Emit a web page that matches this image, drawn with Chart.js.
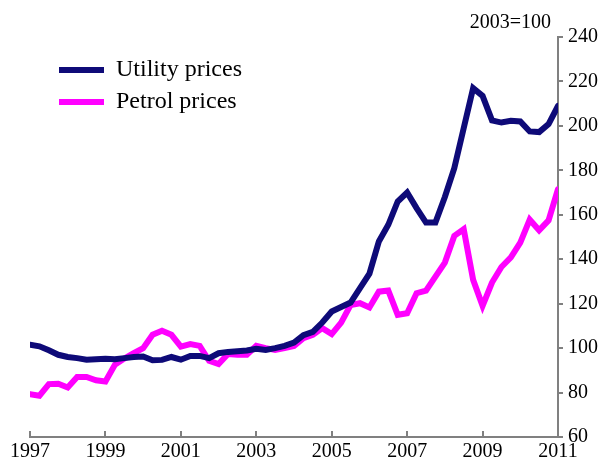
<!DOCTYPE html>
<html>
<head>
<meta charset="utf-8">
<script src="https://cdn.jsdelivr.net/npm/chart.js@4.4.1/dist/chart.umd.min.js"></script>
<style>
  html, body { margin: 0; padding: 0; background: #fff; }
</style>
</head>
<body>
<canvas id="chart" width="601" height="461"></canvas>
<script>
// quarterly observations, 1997 Q1 .. 2011 Q1
const quarters = [
  '1997Q1', '1997Q2', '1997Q3', '1997Q4',
  '1998Q1', '1998Q2', '1998Q3', '1998Q4',
  '1999Q1', '1999Q2', '1999Q3', '1999Q4',
  '2000Q1', '2000Q2', '2000Q3', '2000Q4',
  '2001Q1', '2001Q2', '2001Q3', '2001Q4',
  '2002Q1', '2002Q2', '2002Q3', '2002Q4',
  '2003Q1', '2003Q2', '2003Q3', '2003Q4',
  '2004Q1', '2004Q2', '2004Q3', '2004Q4',
  '2005Q1', '2005Q2', '2005Q3', '2005Q4',
  '2006Q1', '2006Q2', '2006Q3', '2006Q4',
  '2007Q1', '2007Q2', '2007Q3', '2007Q4',
  '2008Q1', '2008Q2', '2008Q3', '2008Q4',
  '2009Q1', '2009Q2', '2009Q3', '2009Q4',
  '2010Q1', '2010Q2', '2010Q3', '2010Q4',
  '2011Q1'
];

const utilityPrices = [
  101.5, 100.8, 99.0, 97.0,
  96.0, 95.5, 94.8, 95.0,
  95.2, 95.0, 95.5, 96.0,
  96.2, 94.5, 94.7, 96.0,
  94.8, 96.5, 96.5, 95.5,
  97.7, 98.3, 98.6, 98.9,
  99.7, 99.2, 100.0, 101.0,
  102.5, 105.8, 107.3, 111.5,
  116.5, 118.5, 120.5, 127.0,
  133.5, 148.0, 155.5, 166.0,
  170.0, 163.0, 156.5, 156.5,
  168.0, 181.0, 199.0, 217.0,
  213.5, 202.5, 201.5, 202.3,
  202.0, 197.5, 197.2, 200.8,
  209.0
];

const petrolPrices = [
  79.3, 78.6, 83.8, 84.0,
  82.3, 87.0, 87.0, 85.5,
  85.0, 92.5, 95.3, 97.7,
  100.0, 106.0, 107.8, 106.0,
  100.7, 101.8, 101.0, 94.3,
  92.8, 97.4, 97.0, 97.0,
  101.0, 100.0, 99.2, 100.0,
  101.0, 104.5, 106.0, 109.0,
  106.3, 111.5, 119.4, 120.2,
  118.3, 125.4, 125.9, 115.0,
  115.7, 124.7, 125.9, 132.2,
  138.5, 150.5, 153.5, 130.7,
  119.0, 129.5, 136.5, 140.8,
  147.5, 157.8, 153.0, 157.5,
  171.5
];

const yearTicks = [1997, 1999, 2001, 2003, 2005, 2007, 2009, 2011];
const valueTicks = [60, 80, 100, 120, 140, 160, 180, 200, 220, 240];
const unitNote = '2003=100';

const serif = 'Liberation Serif, Times New Roman, serif';
const axisGray = '#808080';

function quarterToYear(q) {
  const [y, n] = q.split('Q');
  return Number(y) + (Number(n) - 1) / 4;
}

function toPoints(values) {
  return values.map((v, i) => ({ x: quarterToYear(quarters[i]), y: v }));
}

// put the legend where the original has it, inside the plot
const legendPlacer = {
  id: 'legendPlacer',
  afterLayout(chart) {
    chart.legend.left = 51;
    chart.legend.top = 50;
  }
};

const unitLabel = {
  id: 'unitLabel',
  afterDraw(chart) {
    const { ctx, chartArea } = chart;
    ctx.save();
    ctx.font = '20px ' + serif;
    ctx.fillStyle = '#000';
    ctx.textAlign = 'right';
    ctx.textBaseline = 'alphabetic';
    ctx.fillText(unitNote, chartArea.right - 7, 28);
    ctx.restore();
  }
};

new Chart(document.getElementById('chart'), {
  type: 'line',
  data: {
    datasets: [
      {
        label: 'Utility prices',
        data: toPoints(utilityPrices),
        borderColor: '#0E0A78',
        backgroundColor: '#0E0A78',
        borderWidth: 6
      },
      {
        label: 'Petrol prices',
        data: toPoints(petrolPrices),
        borderColor: '#FF00FF',
        backgroundColor: '#FF00FF',
        borderWidth: 6
      }
    ]
  },
  options: {
    responsive: false,
    animation: false,
    layout: { padding: { left: 30, top: 37, right: 0, bottom: 0 } },
    elements: {
      point: { radius: 0, hoverRadius: 0 },
      line: { tension: 0, fill: false, borderCapStyle: 'round' }
    },
    plugins: {
      tooltip: { enabled: false },
      legend: {
        position: 'chartArea',
        align: 'start',
        labels: {
          color: '#000',
          font: { family: serif, size: 24 },
          boxWidth: 45,
          boxHeight: 6,
          padding: 8,
          generateLabels: (chart) =>
            Chart.defaults.plugins.legend.labels.generateLabels(chart)
              .map(item => ({ ...item, lineWidth: 0 }))
        }
      }
    },
    scales: {
      x: {
        type: 'linear',
        min: 1997,
        max: 2011,
        afterBuildTicks: (scale) => { scale.ticks = yearTicks.map(v => ({ value: v })); },
        afterFit: (scale) => { scale.height = 24; },
        border: { color: axisGray, width: 2 },
        grid: { drawOnChartArea: false, color: axisGray, lineWidth: 2, tickLength: -6 },
        ticks: {
          color: '#000',
          font: { family: serif, size: 20 },
          padding: 9,
          maxRotation: 0,
          autoSkip: false,
          callback: (v) => String(v)
        }
      },
      y: {
        position: 'right',
        min: 60,
        max: 240,
        afterBuildTicks: (scale) => { scale.ticks = valueTicks.map(v => ({ value: v })); },
        afterFit: (scale) => { scale.width = 43; },
        border: { color: axisGray, width: 2 },
        grid: { drawOnChartArea: false, color: axisGray, lineWidth: 2, tickLength: 5 },
        ticks: {
          color: '#000',
          font: { family: serif, size: 20 },
          padding: 5,
          callback: (v) => String(v)
        }
      }
    }
  },
  plugins: [legendPlacer, unitLabel]
});
</script>
</body>
</html>
